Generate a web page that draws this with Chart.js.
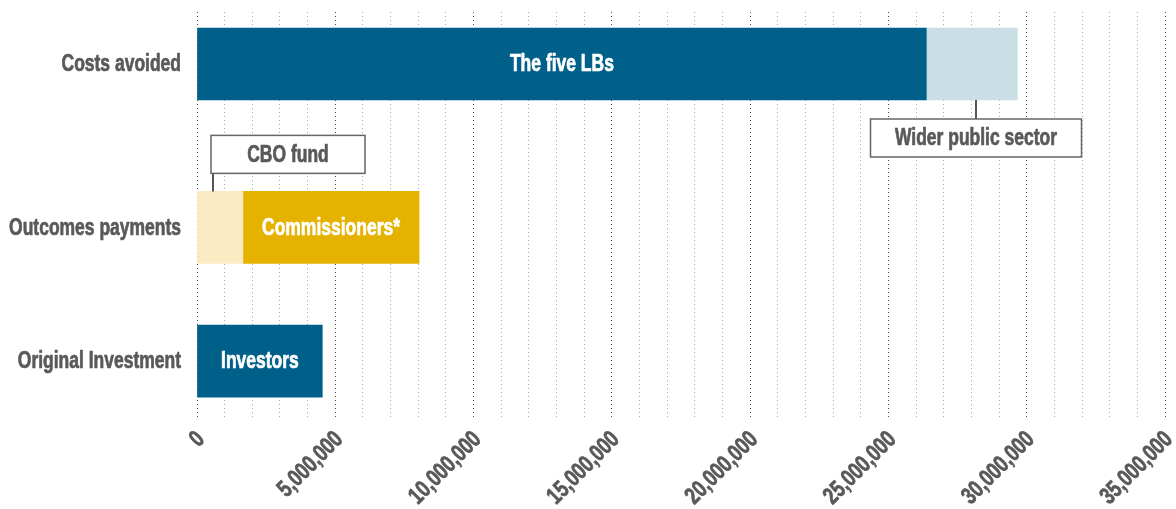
<!DOCTYPE html>
<html><head><meta charset="utf-8">
<script src="https://cdn.jsdelivr.net/npm/chart.js@4.4.1/dist/chart.umd.min.js"></script>
<style>html,body{margin:0;padding:0;background:#fff}#wrap{width:1176px;height:509px;position:relative}</style>
</head><body><div id="wrap"><canvas id="c"></canvas></div>
<script>
// ---- data ----
const categories = ['Costs avoided', 'Outcomes payments', 'Original Investment'];
const segmentLabels = ['The five LBs', 'Wider public sector', 'CBO fund', 'Commissioners*', 'Investors'];
const segmentCategory = ['Costs avoided', 'Costs avoided', 'Outcomes payments', 'Outcomes payments', 'Original Investment'];
const segmentValues = [26370000, 3290000, 1660000, 6370000, 4530000];
const xTickValues = [0, 5000000, 10000000, 15000000, 20000000, 25000000, 30000000, 35000000];
const xTickLabels = ['0', '5,000,000', '10,000,000', '15,000,000', '20,000,000', '25,000,000', '30,000,000', '35,000,000'];

// ---- styles / layout ----
const segmentColors = ['#00608a', '#cadee6', '#faebc2', '#e6b200', '#00608a'];
const insideLabel = [true, false, false, true, true];
const ROW_POS = [0, 1.1, 2];           // row centres along the index scale
const FONT = "bold 23px 'Liberation Sans', Arial, sans-serif";
const TICK_FONT = "bold 24px 'Liberation Sans', Arial, sans-serif";
const SQUEEZE = 0.76;                  // horizontal condensing of the text
const TEXT_GRAY = '#595959';
const MINOR_STEP = 1000000;

const gridValues = [];
for (let v = 0; v <= xTickValues[xTickValues.length - 1]; v += MINOR_STEP) gridValues.push(v);

const datasets = segmentLabels.map((name, i) => ({
  label: name,
  data: [{ x: segmentValues[i], y: ROW_POS[categories.indexOf(segmentCategory[i])] }],
  backgroundColor: segmentColors[i],
  borderWidth: 0,
  barThickness: 72
}));

const callouts = [
  { dataset: 1, side: 'below', frac: 0.55, width: 211, height: 38, gap: 19, centred: true },
  { dataset: 2, side: 'above', frac: 0.34, width: 154, height: 38, gap: 18, centred: false }
];

function squeezedText(ctx, text, x, y, align, rot) {
  ctx.save();
  ctx.translate(x, y);
  if (rot) ctx.rotate(rot);
  ctx.scale(SQUEEZE, 1);
  ctx.textAlign = align;
  ctx.textBaseline = 'middle';
  ctx.strokeStyle = ctx.fillStyle;
  ctx.lineWidth = 0.7;
  ctx.lineJoin = 'round';
  ctx.strokeText(text, 0, 0);
  ctx.fillText(text, 0, 0);
  ctx.restore();
}

const annotatePlugin = {
  id: 'annotate',
  afterDatasetsDraw(chart) {
    const ctx = chart.ctx;
    const xs = chart.scales.x, ys = chart.scales.y;
    ctx.save();
    ctx.font = FONT;
    // category labels
    ctx.fillStyle = TEXT_GRAY;
    categories.forEach((cat, k) => {
      squeezedText(ctx, cat, ys.right - 16, ys.getPixelForValue(ROW_POS[k]) + 1, 'right');
    });
    // x tick labels, rotated
    ctx.font = TICK_FONT;
    xTickValues.forEach((v, k) => {
      squeezedText(ctx, xTickLabels[k], xs.getPixelForValue(v) + 4, xs.top + 17, 'right', -Math.PI / 4);
    });
    ctx.font = FONT;
    // labels inside bars
    segmentLabels.forEach((name, i) => {
      if (!insideLabel[i]) return;
      const el = chart.getDatasetMeta(i).data[0];
      ctx.fillStyle = '#ffffff';
      squeezedText(ctx, name, (el.base + el.x) / 2, el.y + 1, 'center');
    });
    // callout boxes
    callouts.forEach(c => {
      const el = chart.getDatasetMeta(c.dataset).data[0];
      const cx = Math.round(el.base + (el.x - el.base) * c.frac);
      const half = el.height / 2;
      let boxTop, lineY0, lineY1;
      if (c.side === 'below') {
        lineY0 = el.y + half; lineY1 = lineY0 + c.gap; boxTop = lineY1;
      } else {
        lineY0 = el.y - half; lineY1 = lineY0 - c.gap; boxTop = lineY1 - c.height;
      }
      const boxLeft = c.centred ? cx - c.width / 2 : cx - 2;
      ctx.strokeStyle = '#555555';
      ctx.lineWidth = 2;
      ctx.beginPath(); ctx.moveTo(cx, lineY0); ctx.lineTo(cx, lineY1); ctx.stroke();
      ctx.fillStyle = '#ffffff';
      ctx.fillRect(boxLeft, boxTop, c.width, c.height);
      ctx.strokeStyle = '#666666';
      ctx.lineWidth = 1.5;
      ctx.strokeRect(boxLeft, boxTop, c.width, c.height);
      ctx.fillStyle = TEXT_GRAY;
      squeezedText(ctx, segmentLabels[c.dataset], boxLeft + c.width / 2, boxTop + c.height / 2 + 1, 'center');
    });
    ctx.restore();
  }
};

new Chart(document.getElementById('c'), {
  type: 'bar',
  data: { datasets },
  plugins: [annotatePlugin],
  options: {
    indexAxis: 'y',
    responsive: true,
    maintainAspectRatio: false,
    animation: false,
    devicePixelRatio: 1,
    layout: { padding: { top: 12, right: 11, left: 0, bottom: 0 } },
    plugins: { legend: { display: false }, tooltip: { enabled: false } },
    scales: {
      x: {
        type: 'linear',
        stacked: true,
        offset: false,
        min: 0,
        max: xTickValues[xTickValues.length - 1],
        afterBuildTicks(scale) { scale.ticks = gridValues.map(v => ({ value: v })); },
        afterFit(scale) { scale.height = 90; },
        ticks: { display: false, autoSkip: false },
        grid: {
          drawTicks: false,
          lineWidth: 1,
          color(ctx) {
            const v = ctx.tick ? ctx.tick.value : 0;
            return xTickValues.includes(v) ? '#4a4a4a' : '#a8a8a8';
          }
        },
        border: { display: false, dash: [1, 3] }
      },
      y: {
        type: 'linear',
        stacked: true,
        offset: false,
        reverse: true,
        min: -0.35,
        max: 2.39,
        afterBuildTicks(scale) { scale.ticks = ROW_POS.map(v => ({ value: v })); },
        afterFit(scale) { scale.width = 197; },
        ticks: { display: false },
        grid: { display: false },
        border: { display: false }
      }
    }
  }
});
</script>
</body></html>
